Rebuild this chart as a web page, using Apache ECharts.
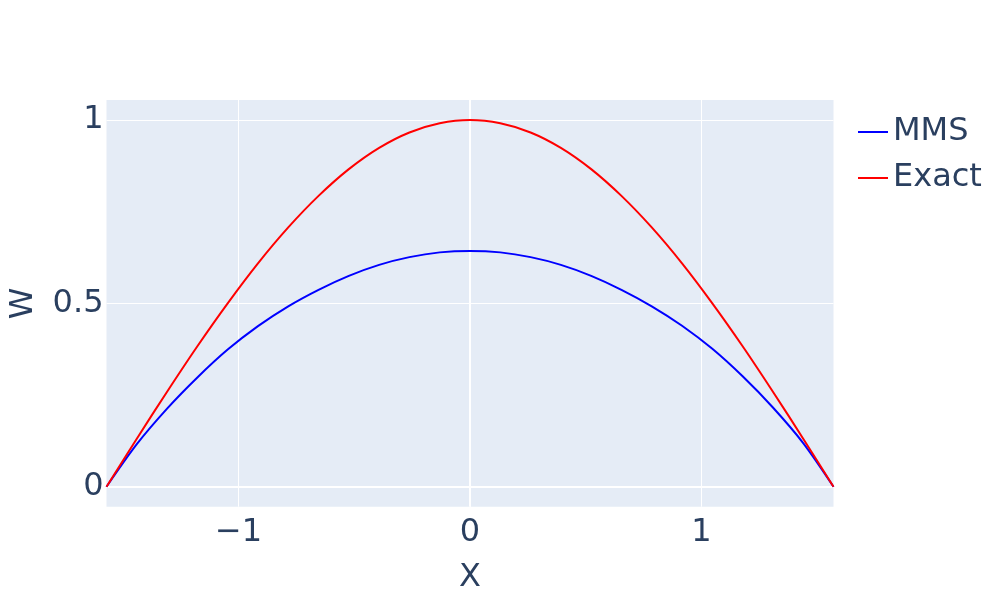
<!DOCTYPE html>
<html>
<head>
<meta charset="utf-8">
<script src="https://cdn.jsdelivr.net/npm/echarts@6/dist/echarts.min.js"></script>
<style>
  html, body { margin: 0; padding: 0; background: #fff; }
  #main { width: 1000px; height: 600px; }
</style>
</head>
<body>
<div id="main"></div>
<script>
// x positions (rad), -pi/2 .. pi/2
var xs = [-1.5708, -1.4399, -1.3090, -1.1781, -1.0472, -0.9163, -0.7854, -0.6545, -0.5236, -0.3927, -0.2618, -0.1309, 0,
          0.1309, 0.2618, 0.3927, 0.5236, 0.6545, 0.7854, 0.9163, 1.0472, 1.1781, 1.3090, 1.4399, 1.5708];
var mmsW = [0, 0.116, 0.213, 0.298, 0.374, 0.438, 0.492, 0.537, 0.575, 0.605, 0.626, 0.639, 0.643,
            0.639, 0.626, 0.605, 0.575, 0.537, 0.492, 0.439, 0.376, 0.301, 0.216, 0.119, 0];
var exactW = [0, 0.131, 0.259, 0.383, 0.500, 0.609, 0.707, 0.793, 0.866, 0.924, 0.966, 0.991, 1.000,
              0.991, 0.966, 0.924, 0.866, 0.793, 0.707, 0.609, 0.500, 0.383, 0.259, 0.131, 0];
var xTicks = [-1, 0, 1];
var yTicks = [0, 0.5, 1];

var txt = '#2a3f5f';
var fnt = '"DejaVu Sans", Verdana, sans-serif';

function pairs(ys) {
    var out = [];
    for (var i = 0; i < xs.length; i++) out.push([xs[i], ys[i]]);
    return out;
}

var chart = echarts.init(document.getElementById('main'));
var option = {
    backgroundColor: '#fff',
    animation: false,
    grid: {
        left: 106.5, right: 166.5, top: 100, bottom: 93.3,
        outerBoundsMode: 'none', containLabel: false,
        show: true, backgroundColor: '#E5ECF6', borderWidth: 0
    },
    legend: {
        left: 853, top: 107, orient: 'vertical',
        icon: 'rect', itemWidth: 30, itemHeight: 2, itemGap: 6,
        textStyle: { fontFamily: fnt, fontSize: 32, color: txt, lineHeight: 40 },
        data: ['MMS', 'Exact']
    },
    xAxis: {
        type: 'value', min: -1.5708, max: 1.5708,
        name: 'X', nameLocation: 'middle', nameGap: 55,
        nameTextStyle: { fontFamily: fnt, fontSize: 32, color: txt },
        axisLine: { show: false },
        axisTick: { show: false, customValues: xTicks },
        axisLabel: {
            customValues: xTicks, margin: 10,
            fontFamily: fnt, fontSize: 32, color: txt,
            formatter: function (v) { return String(v).replace('-', '\u2212'); }
        },
        splitLine: { show: true, lineStyle: { color: '#fff', width: 1 } }
    },
    yAxis: {
        type: 'value', min: -0.0545, max: 1.0545,
        name: 'W', nameLocation: 'middle', nameGap: 67, nameRotate: 90,
        nameTextStyle: { fontFamily: fnt, fontSize: 32, color: txt },
        axisLine: { show: false },
        axisTick: { show: false, customValues: yTicks },
        axisLabel: {
            customValues: yTicks, margin: 3,
            fontFamily: fnt, fontSize: 32, color: txt
        },
        splitLine: { show: true, lineStyle: { color: '#fff', width: 1 } }
    },
    series: [
        {
            name: 'MMS', type: 'line', data: pairs(mmsW),
            showSymbol: false, smooth: 0.3,
            lineStyle: { color: '#0000ff', width: 2 }, itemStyle: { color: '#0000ff' },
            markLine: {
                silent: true, symbol: 'none', label: { show: false },
                lineStyle: { color: '#fff', width: 2, type: 'solid' },
                emphasis: { disabled: true },
                data: [{ xAxis: 0 }, { yAxis: 0 }],
                z: 1
            },
            z: 3
        },
        {
            name: 'Exact', type: 'line', data: pairs(exactW),
            showSymbol: false, smooth: 0.3,
            lineStyle: { color: '#ff0000', width: 2 }, itemStyle: { color: '#ff0000' },
            z: 4
        }
    ]
};
chart.setOption(option);
</script>
</body>
</html>
